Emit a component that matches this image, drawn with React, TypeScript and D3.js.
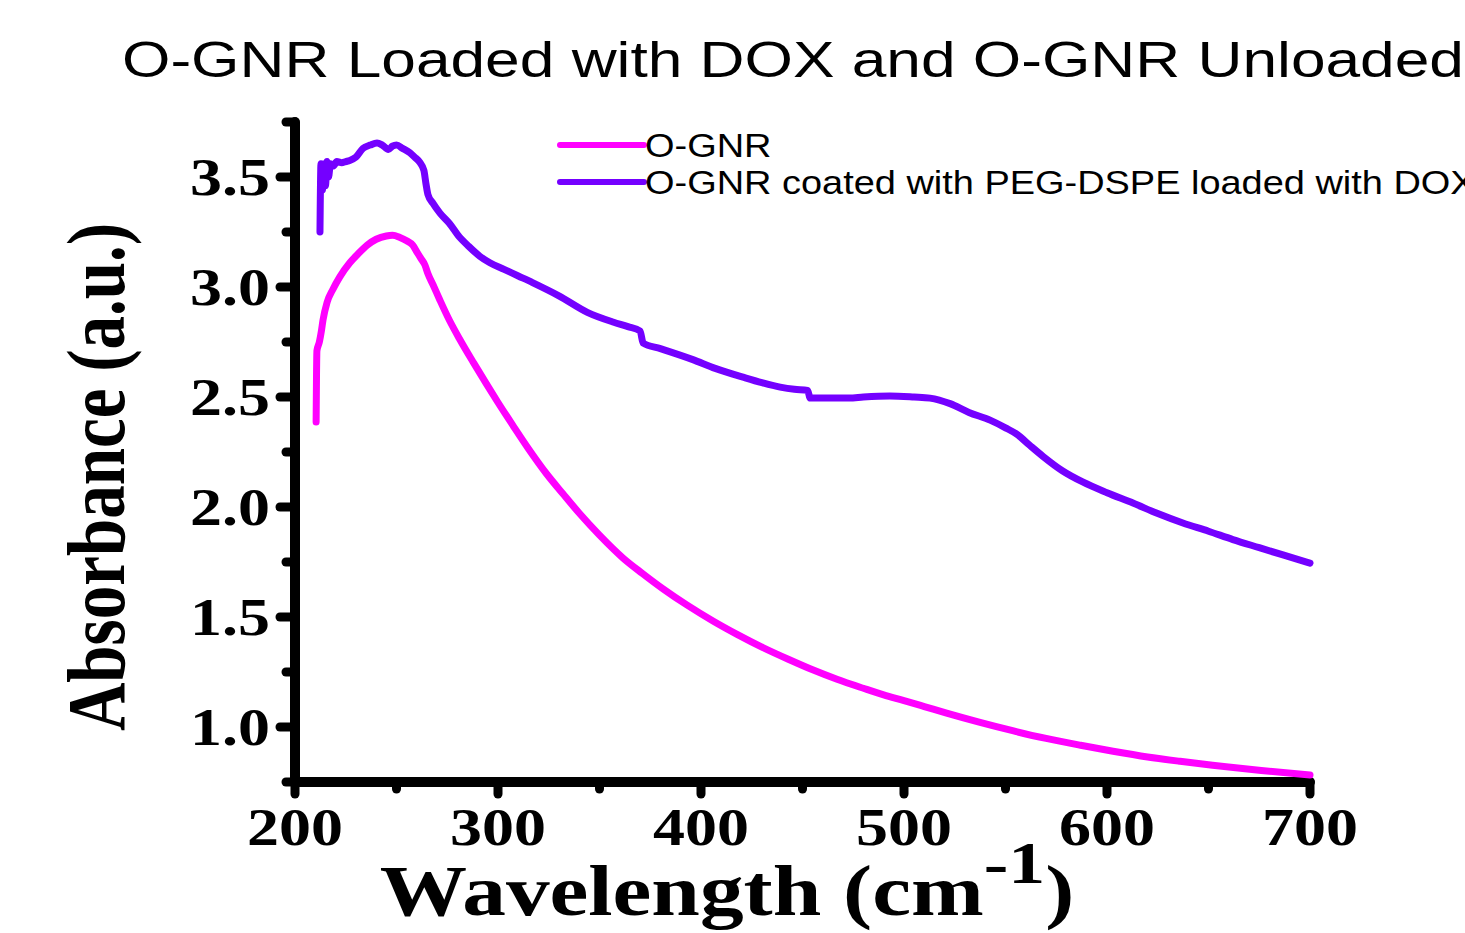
import React, { useEffect, useRef } from 'react';
import * as d3 from 'd3';

const W = 1465;
const H = 933;
// the source picture is stretched sideways, so text gets the same stretch
const SX = 1.23;

const titleText = 'O-GNR Loaded with DOX and O-GNR Unloaded';
const seriesNames = ['O-GNR', 'O-GNR coated with PEG-DSPE loaded with DOX'];
const seriesColors = ['#ff00ff', '#7400ff'];

// O-GNR (unloaded)
const ognrWl = [210.4, 210.6, 210.8, 212, 213, 213.8, 215.8, 218.7, 222, 227, 231, 235.5, 240, 245, 248, 251.7, 255, 258, 260, 262, 264, 265.5, 268, 271.4, 276, 281, 288, 294.6, 300, 307.4, 315, 324, 332, 340.4, 350, 361.6, 371, 381.3, 393, 405.9, 418, 430.5, 443, 455, 467, 480, 490, 500, 510, 521, 537, 554, 570, 587, 603, 620, 636, 652, 676, 700];
const ognrAbs = [2.386, 2.6, 2.71, 2.75, 2.8, 2.85, 2.93, 2.99, 3.045, 3.11, 3.15, 3.19, 3.217, 3.232, 3.235, 3.225, 3.21, 3.19, 3.16, 3.13, 3.1, 3.06, 3.01, 2.94, 2.85, 2.765, 2.655, 2.555, 2.475, 2.37, 2.265, 2.15, 2.06, 1.968, 1.872, 1.768, 1.699, 1.628, 1.555, 1.482, 1.42, 1.361, 1.308, 1.26, 1.217, 1.176, 1.146, 1.12, 1.093, 1.063, 1.022, 0.982, 0.948, 0.917, 0.89, 0.864, 0.844, 0.826, 0.802, 0.782];

// O-GNR coated with PEG-DSPE loaded with DOX
const doxWl = [212.3, 212.8, 213.5, 214.2, 215, 215.8, 216.5, 217.5, 219, 220.6, 223, 225, 227, 230, 233.5, 237, 240.4, 243, 246, 248, 250, 253, 256.6, 259, 261.6, 263.5, 264.5, 265.5, 268, 271.4, 276, 281, 285, 291, 296, 303, 310, 317, 330, 344, 357, 364, 370, 371.5, 380, 396, 407, 420.7, 430, 439, 446, 452.5, 453.8, 465, 473, 480, 493, 505, 512.8, 522.7, 532, 542.4, 550, 555.7, 562, 568.5, 578, 588, 600, 612.8, 625, 637.4, 650, 662, 675, 686.7, 700];
const doxAbs = [3.25, 3.56, 3.44, 3.56, 3.46, 3.57, 3.5, 3.56, 3.55, 3.57, 3.565, 3.57, 3.575, 3.59, 3.63, 3.645, 3.655, 3.645, 3.625, 3.64, 3.645, 3.63, 3.61, 3.59, 3.565, 3.53, 3.47, 3.42, 3.38, 3.336, 3.29, 3.227, 3.19, 3.14, 3.11, 3.08, 3.05, 3.02, 2.96, 2.885, 2.84, 2.82, 2.8, 2.745, 2.72, 2.67, 2.63, 2.59, 2.565, 2.545, 2.535, 2.53, 2.495, 2.495, 2.495, 2.5, 2.505, 2.5, 2.495, 2.47, 2.43, 2.395, 2.36, 2.33, 2.28, 2.23, 2.165, 2.114, 2.065, 2.018, 1.97, 1.927, 1.89, 1.852, 1.815, 1.782, 1.745];

const xTicks = [200, 300, 400, 500, 600, 700];
const xMinor = [250, 350, 450, 550, 650];
const yTicks = [1.0, 1.5, 2.0, 2.5, 3.0, 3.5];
const yMinor = [0.75, 1.25, 1.75, 2.25, 2.75, 3.25, 3.75];

const serif = '"Liberation Serif", "Times New Roman", serif';
const sans = '"Liberation Sans", Arial, sans-serif';

export default function App() {
  const ref = useRef<SVGSVGElement>(null);

  useEffect(() => {
    const svg = d3.select(ref.current);
    svg.selectAll('*').remove();

    const x = d3.scaleLinear().domain([200, 700]).range([295, 1310]);
    const y = d3.scaleLinear().domain([0.75, 3.75]).range([782, 122]);
    const axisX = x(200);
    const axisY = y(0.75);

    // stretched text helper
    function txt(px, py, str, size, family, anchor, sx = SX) {
      return svg.append('text')
        .attr('transform', `translate(${px},${py}) scale(${sx},1)`)
        .attr('text-anchor', anchor)
        .attr('font-family', family)
        .attr('font-size', size)
        .attr('fill', '#000')
        .text(str);
    }

    // title
    txt(122, 77, titleText, 50, sans, 'start', 1.245);

    const ax = svg.append('g')
      .attr('stroke', '#000')
      .attr('stroke-linecap', 'round');

    // axis lines
    ax.append('line')
      .attr('x1', axisX).attr('x2', axisX)
      .attr('y1', y(3.75)).attr('y2', axisY)
      .attr('stroke-width', 10);
    ax.append('line')
      .attr('x1', axisX).attr('x2', x(700))
      .attr('y1', axisY).attr('y2', axisY)
      .attr('stroke-width', 10);

    // y ticks
    ax.selectAll('.ymaj').data(yTicks).join('line')
      .attr('x1', axisX).attr('x2', axisX - 15)
      .attr('y1', d => y(d)).attr('y2', d => y(d))
      .attr('stroke-width', 9);
    ax.selectAll('.ymin').data(yMinor).join('line')
      .attr('class', 'ymin')
      .attr('x1', axisX).attr('x2', axisX - 9)
      .attr('y1', d => y(d)).attr('y2', d => y(d))
      .attr('stroke-width', 9);

    // x ticks
    ax.selectAll('.xmaj').data(xTicks).join('line')
      .attr('class', 'xmaj')
      .attr('x1', d => x(d)).attr('x2', d => x(d))
      .attr('y1', axisY).attr('y2', axisY + 12)
      .attr('stroke-width', 9);
    ax.selectAll('.xmin').data(xMinor).join('line')
      .attr('class', 'xmin')
      .attr('x1', d => x(d)).attr('x2', d => x(d))
      .attr('y1', axisY).attr('y2', axisY + 7)
      .attr('stroke-width', 9);

    // tick labels
    yTicks.forEach(d => {
      txt(270, y(d) + 18, d3.format('.1f')(d), 52, serif, 'end').attr('font-weight', 'bold');
    });
    xTicks.forEach(d => {
      txt(x(d), 845, String(d), 52, serif, 'middle').attr('font-weight', 'bold');
    });

    // axis titles
    svg.append('text')
      .attr('transform', `translate(124,477) scale(${SX},1) rotate(-90)`)
      .attr('text-anchor', 'middle')
      .attr('font-family', serif)
      .attr('font-weight', 'bold')
      .attr('font-size', 67)
      .text('Absorbance (a.u.)');

    const xl = svg.append('text')
      .attr('transform', `translate(727,915) scale(${SX},1)`)
      .attr('text-anchor', 'middle')
      .attr('font-family', serif)
      .attr('font-weight', 'bold')
      .attr('font-size', 71);
    xl.append('tspan').text('Wavelength (cm');
    xl.append('tspan').attr('font-size', 60).attr('dy', -32).text('-1');
    xl.append('tspan').attr('dy', 32).text(')');

    // curves
    const line = d3.line<[number, number]>()
      .x(d => x(d[0]))
      .y(d => y(d[1]))
      .curve(d3.curveMonotoneX);

    const series = [
      d3.zip(ognrWl, ognrAbs),
      d3.zip(doxWl, doxAbs),
    ];

    svg.selectAll('.curve').data(series).join('path')
      .attr('class', 'curve')
      .attr('d', d => line(d as [number, number][]))
      .attr('fill', 'none')
      .attr('stroke', (d, i) => seriesColors[i])
      .attr('stroke-width', 7)
      .attr('stroke-linejoin', 'round')
      .attr('stroke-linecap', 'round');

    // legend
    seriesNames.forEach((name, i) => {
      const ly = 145 + i * 37;
      svg.append('line')
        .attr('x1', 560).attr('x2', 644)
        .attr('y1', ly).attr('y2', ly)
        .attr('stroke', seriesColors[i])
        .attr('stroke-width', 6)
        .attr('stroke-linecap', 'round');
      txt(645, ly + 12, name, 33, sans, 'start', 1.15);
    });
  }, []);

  return (
    <svg
      ref={ref}
      width={W}
      height={H}
      style={{ position: 'absolute', left: 0, top: 0, background: '#fff' }}
    />
  );
}
